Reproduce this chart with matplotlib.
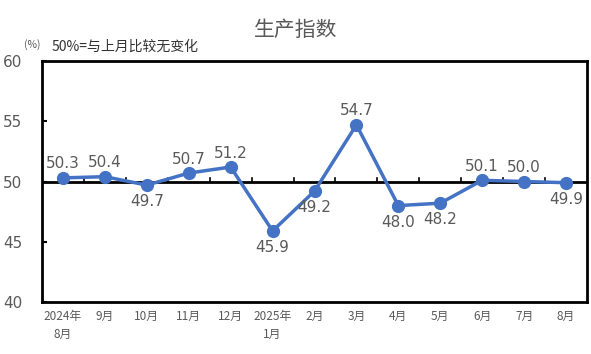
import matplotlib
matplotlib.use("Agg")
import matplotlib.pyplot as plt

plt.rcParams['font.family'] = ['Noto Sans CJK SC', 'DejaVu Sans']

months = ["2024年\n8月", "9月", "10月", "11月", "12月", "2025年\n1月", "2月",
          "3月", "4月", "5月", "6月", "7月", "8月"]
values = [50.3, 50.4, 49.7, 50.7, 51.2, 45.9, 49.2, 54.7, 48.0, 48.2, 50.1, 50.0, 49.9]
label_above = [True, True, False, True, True, False, False, True, False, False, True, True, False]

blue = "#4472C4"
gray = "#595959"

fig = plt.figure(figsize=(5.91, 3.54), dpi=100)
ax = fig.add_axes([42 / 591, 1 - 302 / 354, 545 / 591, 241 / 354])

x = list(range(len(values)))
ax.plot(x, values, color=blue, linewidth=2.5, marker="o", markersize=8.5, zorder=3)
ax.axhline(50, color="black", linewidth=2, zorder=2)

# small tick marks on the 50 line, between categories (pointing up)
for b in range(1, len(values)):
    ax.plot([b - 0.5, b - 0.5], [50, 50.3], color="black", linewidth=1.2, zorder=2)

for xi, v, up in zip(x, values, label_above):
    off = 10 if up else -12
    ax.annotate(f"{v:.1f}", (xi, v), xytext=(0, off), textcoords="offset points",
                ha="center", va="center", fontsize=11,
                color=gray, family="DejaVu Sans")

ax.set_xlim(-0.5, len(values) - 0.5)
ax.set_ylim(40, 60)
ax.set_yticks([40, 45, 50, 55, 60])
ax.set_yticklabels(["40", "45", "50", "55", "60"], family="DejaVu Sans")
ax.set_xticks(x)
ax.set_xticklabels(months, fontsize=8.5, color=gray, linespacing=1.45)
ax.tick_params(axis="y", direction="in", length=3.5, width=1.5, labelsize=11,
               labelcolor=gray, pad=14)
ax.tick_params(axis="x", length=0, pad=6)
for s in ax.spines.values():
    s.set_linewidth(2)
    s.set_color("black")

fig.text(296 / 591, 1 - 30 / 354, "生产指数", ha="center", va="center",
         fontsize=15, color=gray)
fig.text(24 / 591, 1 - 45 / 354, "(%)", ha="left", va="center", fontsize=7.5, color=gray)
fig.text(52 / 591, 1 - 47 / 354, "50%=与上月比较无变化", ha="left", va="center",
         fontsize=10, color="#333333")

fig.savefig("out.png", dpi=100)
